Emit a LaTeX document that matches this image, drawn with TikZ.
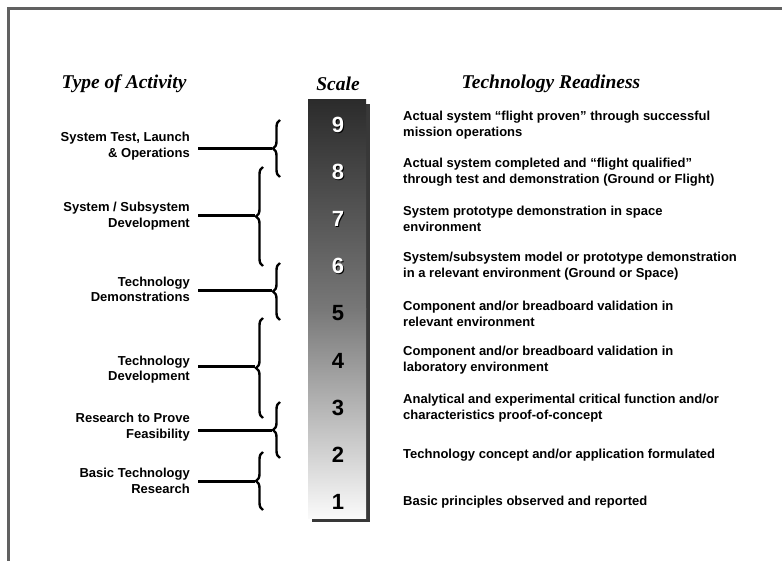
\documentclass[tikz,border=0pt]{standalone}
\usepackage{fontspec}
\setmainfont{Liberation Serif}
\setsansfont{Liberation Sans}
\usetikzlibrary{positioning,decorations.pathreplacing}

\begin{document}
\begin{tikzpicture}[x=1pt,y=-1pt]
  \tikzset{
    head/.style={font=\rmfamily\bfseries\itshape\fontsize{19.5}{22}\selectfont,inner sep=0pt},
    actlab/.style={anchor=east,align=right,inner xsep=8pt,inner ysep=0pt,
      font=\sffamily\bfseries\fontsize{13}{15.5}\selectfont},
    trl/.style={anchor=west,align=left,inner sep=0pt,
      font=\sffamily\bfseries\fontsize{13}{16}\selectfont},
    num/.style={font=\sffamily\bfseries\fontsize{22}{22}\selectfont,inner sep=0pt},
    brc/.style={decorate,decoration={brace,amplitude=7pt},line width=2.4pt},
    stem/.style={line width=3pt},
  }
  \useasboundingbox (0,0) rectangle (782,561);

  %FRAME
  \draw[line width=2.2pt,black!62] (8.5,561) -- (8.5,8.5) -- (782,8.5);

  %HEADINGS
  \node[head] (typ) at (124,84) {Type of Activity};
  \node[head] (scl) at (338,84) {Scale};
  \node[head] (rdy) at (551,84) {Technology Readiness};

  %SCALE BAR
  \fill[black!78] (312,104) rectangle (370,522);
  \shade[top color=black!83,middle color=black!74,bottom color=black!53] (308,100) rectangle (366,309.5);
  \shade[top color=black!53,bottom color=black!2] (308,309) rectangle (366,518);

  \foreach \n in {9,8,7,6} {
    \pgfmathsetmacro\yy{125+(9-\n)*47.125}
    \node[num,text=black] at (339,\yy+1) {\n};
    \node[num,text=white] (n\n) at (338,\yy) {\n};
  }
  \foreach \n in {5,4,3,2,1} {
    \pgfmathsetmacro\yy{125+(9-\n)*47.125}
    \node[num] (n\n) at (338,\yy) {\n};
  }

  %READINESS LEVELS
  \foreach \n/\txt in {
    9/{Actual system ``flight proven'' through successful\\mission operations},
    8/{Actual system completed and ``flight qualified''\\through test and demonstration (Ground or Flight)},
    7/{System prototype demonstration in space\\environment},
    6/{System/subsystem model or prototype demonstration\\in a relevant environment (Ground or Space)},
    5/{Component and/or breadboard validation in\\relevant environment},
    4/{Component and/or breadboard validation in\\laboratory environment},
    3/{Analytical and experimental critical function and/or\\characteristics proof-of-concept},
    2/{Technology concept and/or application formulated},
    1/{Basic principles observed and reported}} {
    \node[trl] (d\n) at (403,{125+(9-\n)*47.125}) {\txt};
  }

  %BRACES
  \draw[brc] (280,177) -- (280,120);
  \draw[brc] (263,266) -- (263,167);
  \draw[brc] (280,320) -- (280,263);
  \draw[brc] (263,418) -- (263,318);
  \draw[brc] (280,458) -- (280,402);
  \draw[brc] (263,510) -- (263,452);

  \coordinate (k1) at (272,149);
  \coordinate (k2) at (255,216);
  \coordinate (k3) at (272,291);
  \coordinate (k4) at (255,367);
  \coordinate (k5) at (272,430);
  \coordinate (k6) at (255,481);

  %TYPE OF ACTIVITY
  \node[actlab] (a1) at (198,146) {System Test, Launch\\\& Operations};
  \node[actlab] (a2) at (198,216) {System / Subsystem\\Development};
  \node[actlab] (a3) at (198,289.5) {Technology\\Demonstrations};
  \node[actlab] (a4) at (198,369.5) {Technology\\Development};
  \node[actlab] (a5) at (198,427) {Research to Prove\\Feasibility};
  \node[actlab] (a6) at (198,481) {Basic Technology\\Research};

  \foreach \i in {1,...,6} {
    \draw[stem] (a\i.east |- k\i) -- (k\i);
  }
\end{tikzpicture}
\end{document}
